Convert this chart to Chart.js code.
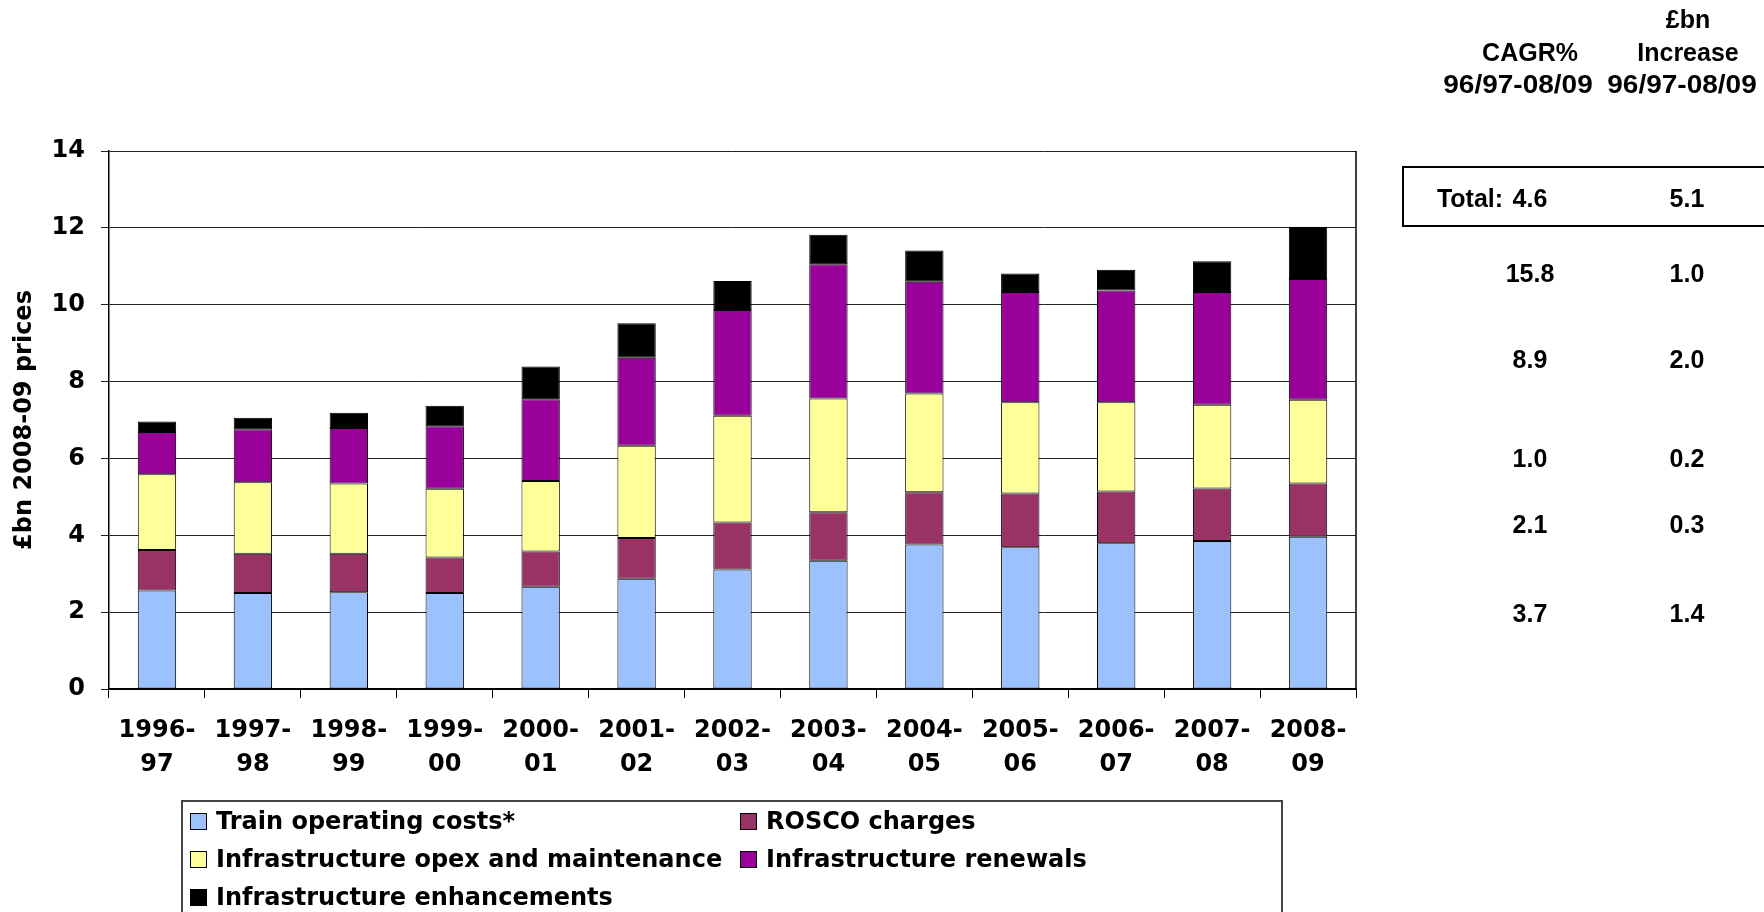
<!DOCTYPE html>
<html>
<head>
<meta charset="utf-8">
<title>Rail industry costs 1996-97 to 2008-09</title>
<script src="https://cdn.jsdelivr.net/npm/chart.js@4"></script>
<style>
  body { margin: 0; background: #fff; }
  #wrap { position: relative; width: 1764px; height: 912px; overflow: hidden; }
  #myChart { position: absolute; left: 0; top: 0; }
  .legend-box {
    position: absolute; left: 181px; top: 800px; width: 1102px; height: 140px;
    border: 2px solid #444; box-sizing: border-box; padding: 0 0 0 7px;
    display: grid; grid-template-columns: 550px auto; grid-auto-rows: 38px;
    font: bold 24px "DejaVu Sans", Verdana, sans-serif; color: #000;
  }
  .legend-item { display: flex; align-items: center; white-space: nowrap; }
  .swatch { width: 15px; height: 15px; border: 1px solid #000; margin-right: 9px; }
  .tbl {
    position: absolute; transform: translate(-50%, -50%); white-space: nowrap;
    font: bold 25px "Liberation Sans", Arial, sans-serif; line-height: 1; color: #000;
  }
  .tbl.wide { transform: translate(-50%, -50%) scaleX(1.12); }
  .total-box {
    position: absolute; left: 1402px; top: 166px; width: 400px; height: 61px;
    border: 2px solid #000; box-sizing: border-box;
  }
</style>
</head>
<body>
<div id="wrap">
  <canvas id="myChart" width="1764" height="912"></canvas>
  <div class="total-box"></div>
  <div class="tbl" style="left:1688px;top:19px">£bn</div>
  <div class="tbl" style="left:1530px;top:52px">CAGR%</div>
  <div class="tbl" style="left:1688px;top:52px">Increase</div>
  <div class="tbl wide" style="left:1518px;top:84px">96/97-08/09</div>
  <div class="tbl wide" style="left:1682px;top:84px">96/97-08/09</div>
  <div class="tbl" style="left:1470px;top:198px">Total:</div>
  <div class="legend-box" id="legend"></div>
</div>
<script>
// financial years
const years = [
  ["1996-", "97"], ["1997-", "98"], ["1998-", "99"], ["1999-", "00"], ["2000-", "01"],
  ["2001-", "02"], ["2002-", "03"], ["2003-", "04"], ["2004-", "05"], ["2005-", "06"],
  ["2006-", "07"], ["2007-", "08"], ["2008-", "09"],
];

// £bn, 2008-09 prices
const trainOperating = [2.56, 2.50, 2.52, 2.50, 2.66, 2.87, 3.11, 3.34, 3.76, 3.69, 3.79, 3.85, 3.96];
const roscoCharges = [1.06, 1.02, 1.00, 0.92, 0.92, 1.06, 1.22, 1.26, 1.36, 1.40, 1.35, 1.37, 1.39];
const infraOpex = [1.97, 1.86, 1.83, 1.79, 1.83, 2.40, 2.78, 2.96, 2.57, 2.37, 2.32, 2.18, 2.18];
const infraRenewals = [1.10, 1.38, 1.44, 1.63, 2.13, 2.29, 2.75, 3.49, 2.91, 2.87, 2.91, 2.93, 3.14];
const infraEnhancements = [0.27, 0.30, 0.40, 0.53, 0.85, 0.90, 0.76, 0.77, 0.81, 0.48, 0.54, 0.80, 1.36];

const yTicks = [0, 2, 4, 6, 8, 10, 12, 14];

// side table: total first, then enhancements down to train operating costs
const cagrValues = ["4.6", "15.8", "8.9", "1.0", "2.1", "3.7"];
const increaseValues = ["5.1", "1.0", "2.0", "0.2", "0.3", "1.4"];
const tableRowY = [198, 273, 359, 458, 524, 613];

const series = [
  { label: "Train operating costs*", data: trainOperating, color: "#9BC2FF" },
  { label: "ROSCO charges", data: roscoCharges, color: "#993366" },
  { label: "Infrastructure opex and maintenance", data: infraOpex, color: "#FFFF99" },
  { label: "Infrastructure renewals", data: infraRenewals, color: "#990099" },
  { label: "Infrastructure enhancements", data: infraEnhancements, color: "#000000" },
];

function buildTable() {
  const wrap = document.getElementById("wrap");
  cagrValues.forEach((val, i) => {
    const a = document.createElement("div");
    a.className = "tbl";
    a.style.left = "1530px";
    a.style.top = tableRowY[i] + "px";
    a.innerText = val;
    wrap.appendChild(a);

    const b = document.createElement("div");
    b.className = "tbl";
    b.style.left = "1687px";
    b.style.top = tableRowY[i] + "px";
    b.innerText = increaseValues[i];
    wrap.appendChild(b);
  });
}

function buildLegend() {
  const box = document.getElementById("legend");
  // two columns, filled row by row
  series.forEach((s) => {
    const item = document.createElement("div");
    item.className = "legend-item";
    const sw = document.createElement("span");
    sw.className = "swatch";
    sw.style.background = s.color;
    item.appendChild(sw);
    item.appendChild(document.createTextNode(s.label));
    box.appendChild(item);
  });
}

// right-hand frame of the plot area
const plotBorder = {
  id: "plotBorder",
  afterDatasetsDraw(chart) {
    const { ctx, chartArea } = chart;
    ctx.save();
    ctx.strokeStyle = "#000";
    ctx.lineWidth = 1.5;
    ctx.beginPath();
    ctx.moveTo(chartArea.right, chartArea.top);
    ctx.lineTo(chartArea.right, chartArea.bottom);
    ctx.stroke();
    ctx.restore();
  },
};

function createCostChart() {
  Chart.defaults.color = "#000";
  Chart.defaults.font.family = '"DejaVu Sans", Verdana, sans-serif';
  Chart.defaults.font.weight = "bold";
  Chart.defaults.font.size = 24;

  const ctx = document.getElementById("myChart").getContext("2d");
  new Chart(ctx, {
    type: "bar",
    data: {
      labels: years,
      datasets: series.map((s) => ({
        label: s.label,
        data: s.data,
        backgroundColor: s.color,
        borderColor: "#000",
        borderWidth: 1,
        borderSkipped: false,
        barPercentage: 0.4,
        categoryPercentage: 1,
      })),
    },
    options: {
      responsive: false,
      animation: false,
      devicePixelRatio: 1,
      layout: { padding: { left: 0, top: 151, right: 408, bottom: 133 } },
      plugins: {
        legend: { display: false },
        tooltip: { enabled: false },
      },
      scales: {
        x: {
          stacked: true,
          grid: { drawOnChartArea: false, offset: true, tickLength: 9, color: "#000" },
          border: { color: "#000", width: 2 },
          ticks: {
            padding: 15,
            maxRotation: 0,
            autoSkip: false,
            font: { size: 24, weight: "bold", lineHeight: 1.44 },
          },
          afterFit: (scale) => {
            scale.height = 90;
          },
        },
        y: {
          stacked: true,
          min: yTicks[0],
          max: yTicks[yTicks.length - 1],
          afterBuildTicks: (scale) => {
            scale.ticks = yTicks.map((v) => ({ value: v }));
          },
          ticks: { padding: 16 },
          grid: { color: "#222", tickLength: 8 },
          border: { color: "#000", width: 1.5 },
          title: {
            display: true,
            text: "£bn 2008-09 prices",
            font: { size: 24, weight: "bold" },
            padding: { top: 10, bottom: 0 },
          },
          afterFit: (scale) => {
            scale.width = 109;
          },
        },
      },
    },
    plugins: [plotBorder],
  });
}

document.addEventListener("DOMContentLoaded", () => {
  buildTable();
  buildLegend();
  createCostChart();
});
</script>
</body>
</html>
